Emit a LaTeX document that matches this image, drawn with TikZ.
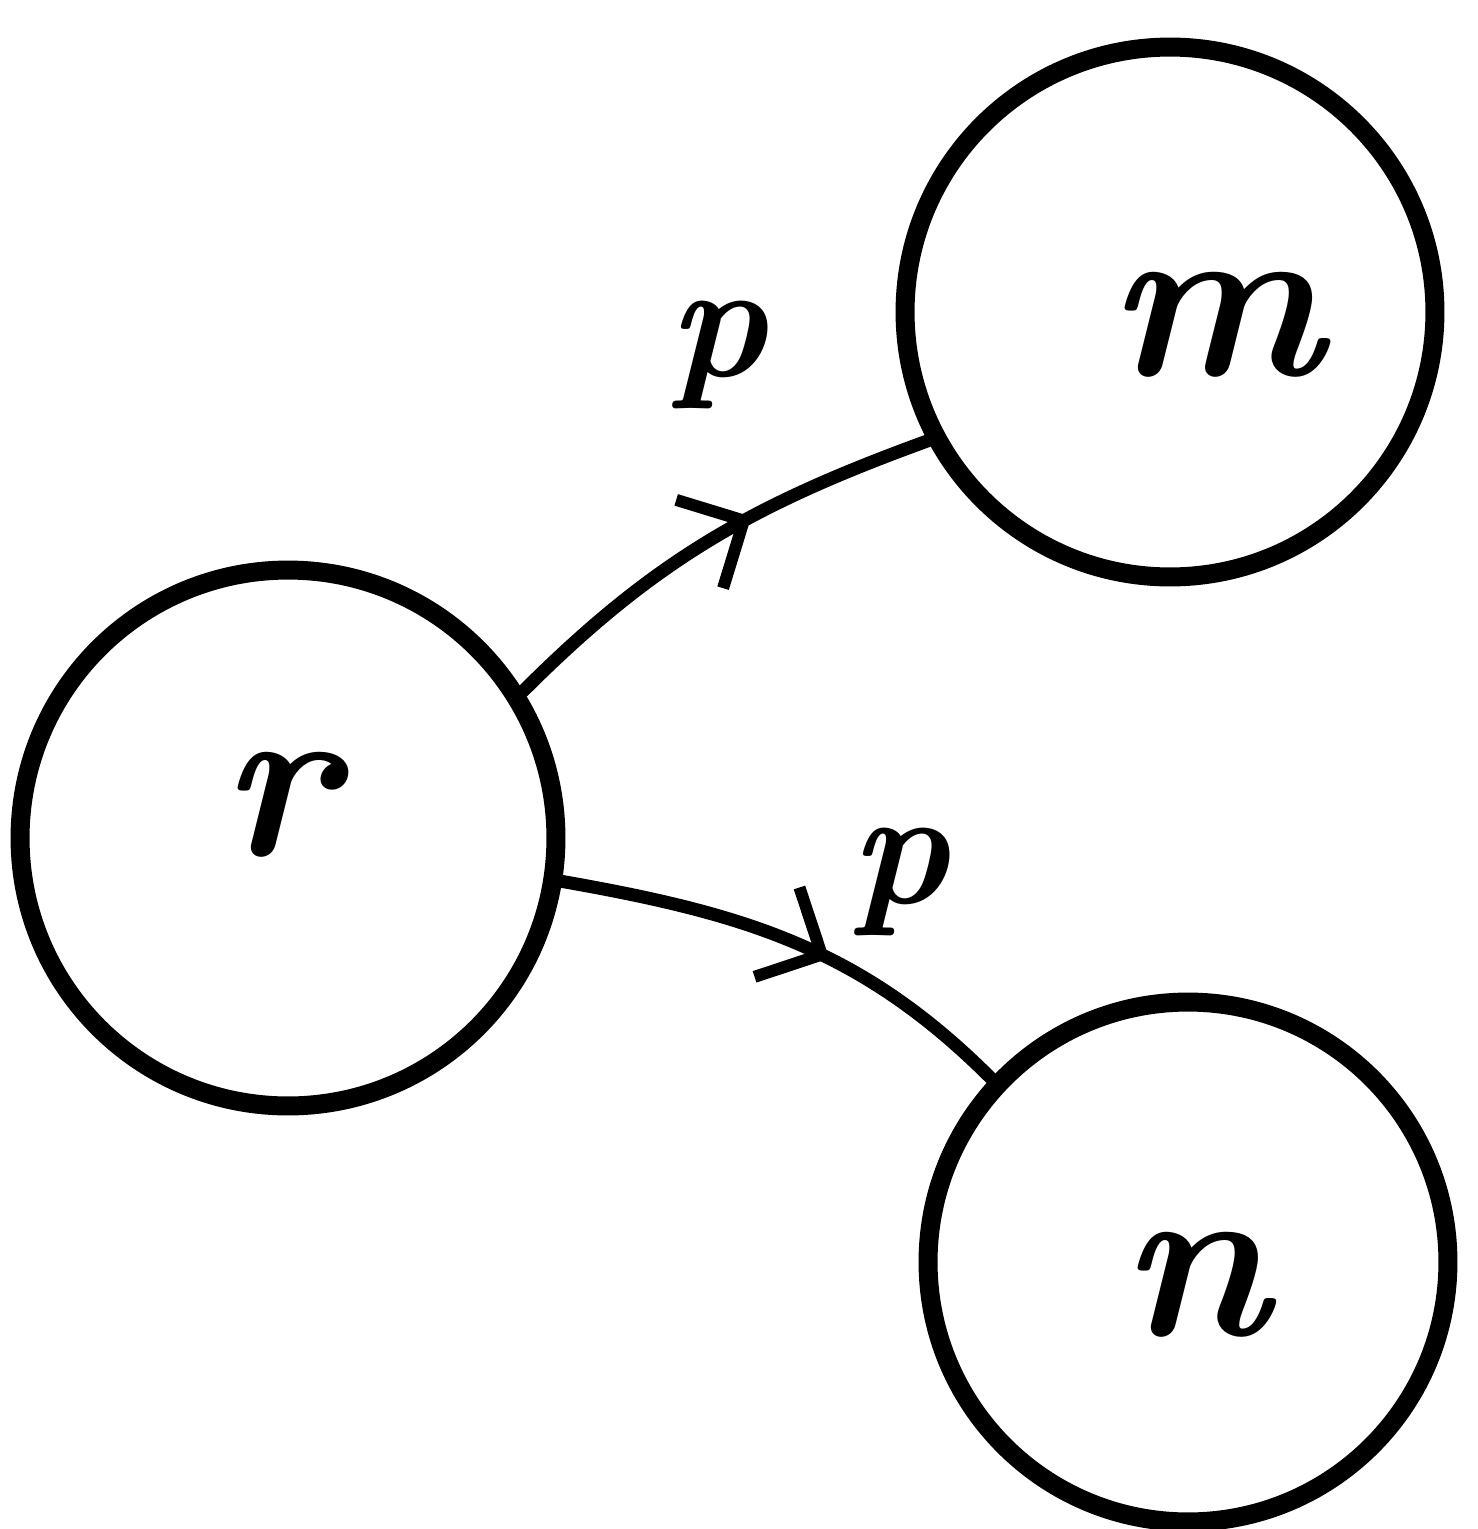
\documentclass[tikz,border=0pt]{standalone}
\usetikzlibrary{arrows.meta,decorations.markings}
\begin{document}
\begin{tikzpicture}[x=0.02cm,y=-0.02cm,
  state/.style={circle,draw,line width=0.38cm,inner sep=0pt},
  conn/.style={line width=0.26cm,line cap=round,
    postaction={decorate},
    decoration={markings,mark=at position #1 with {\arrow[line width=0.24cm]{Straight Barb[length=1.0cm,width=2.0cm]}}}},
  letter/.style={font=\fontsize{130}{130}\selectfont\bfseries\itshape},
  lab/.style={font=\fontsize{95}{95}\selectfont\bfseries\itshape}]
\useasboundingbox (0,0) rectangle (1478,1529);
\node[state,minimum size=10.72cm] (r) at (288,838) {};
\node[state,minimum size=10.6cm] (m) at (1170,312) {};
\node[state,minimum size=10.4cm] (n) at (1188,1262) {};
\node[letter] (rl) at (278,805) {r};
\node[letter] (ml) at (1215,325) {m};
\node[letter] (nl) at (1195,1285) {n};
\draw[conn=0.6] (r.32) to[out=45,in=200] (m.208);
\draw[conn=0.58] (r.-9) to[out=-10,in=135] (n.137);
\node[lab] (p1) at (718,355) {p};
\node[lab] (p2) at (900,882) {p};
\end{tikzpicture}
\end{document}
